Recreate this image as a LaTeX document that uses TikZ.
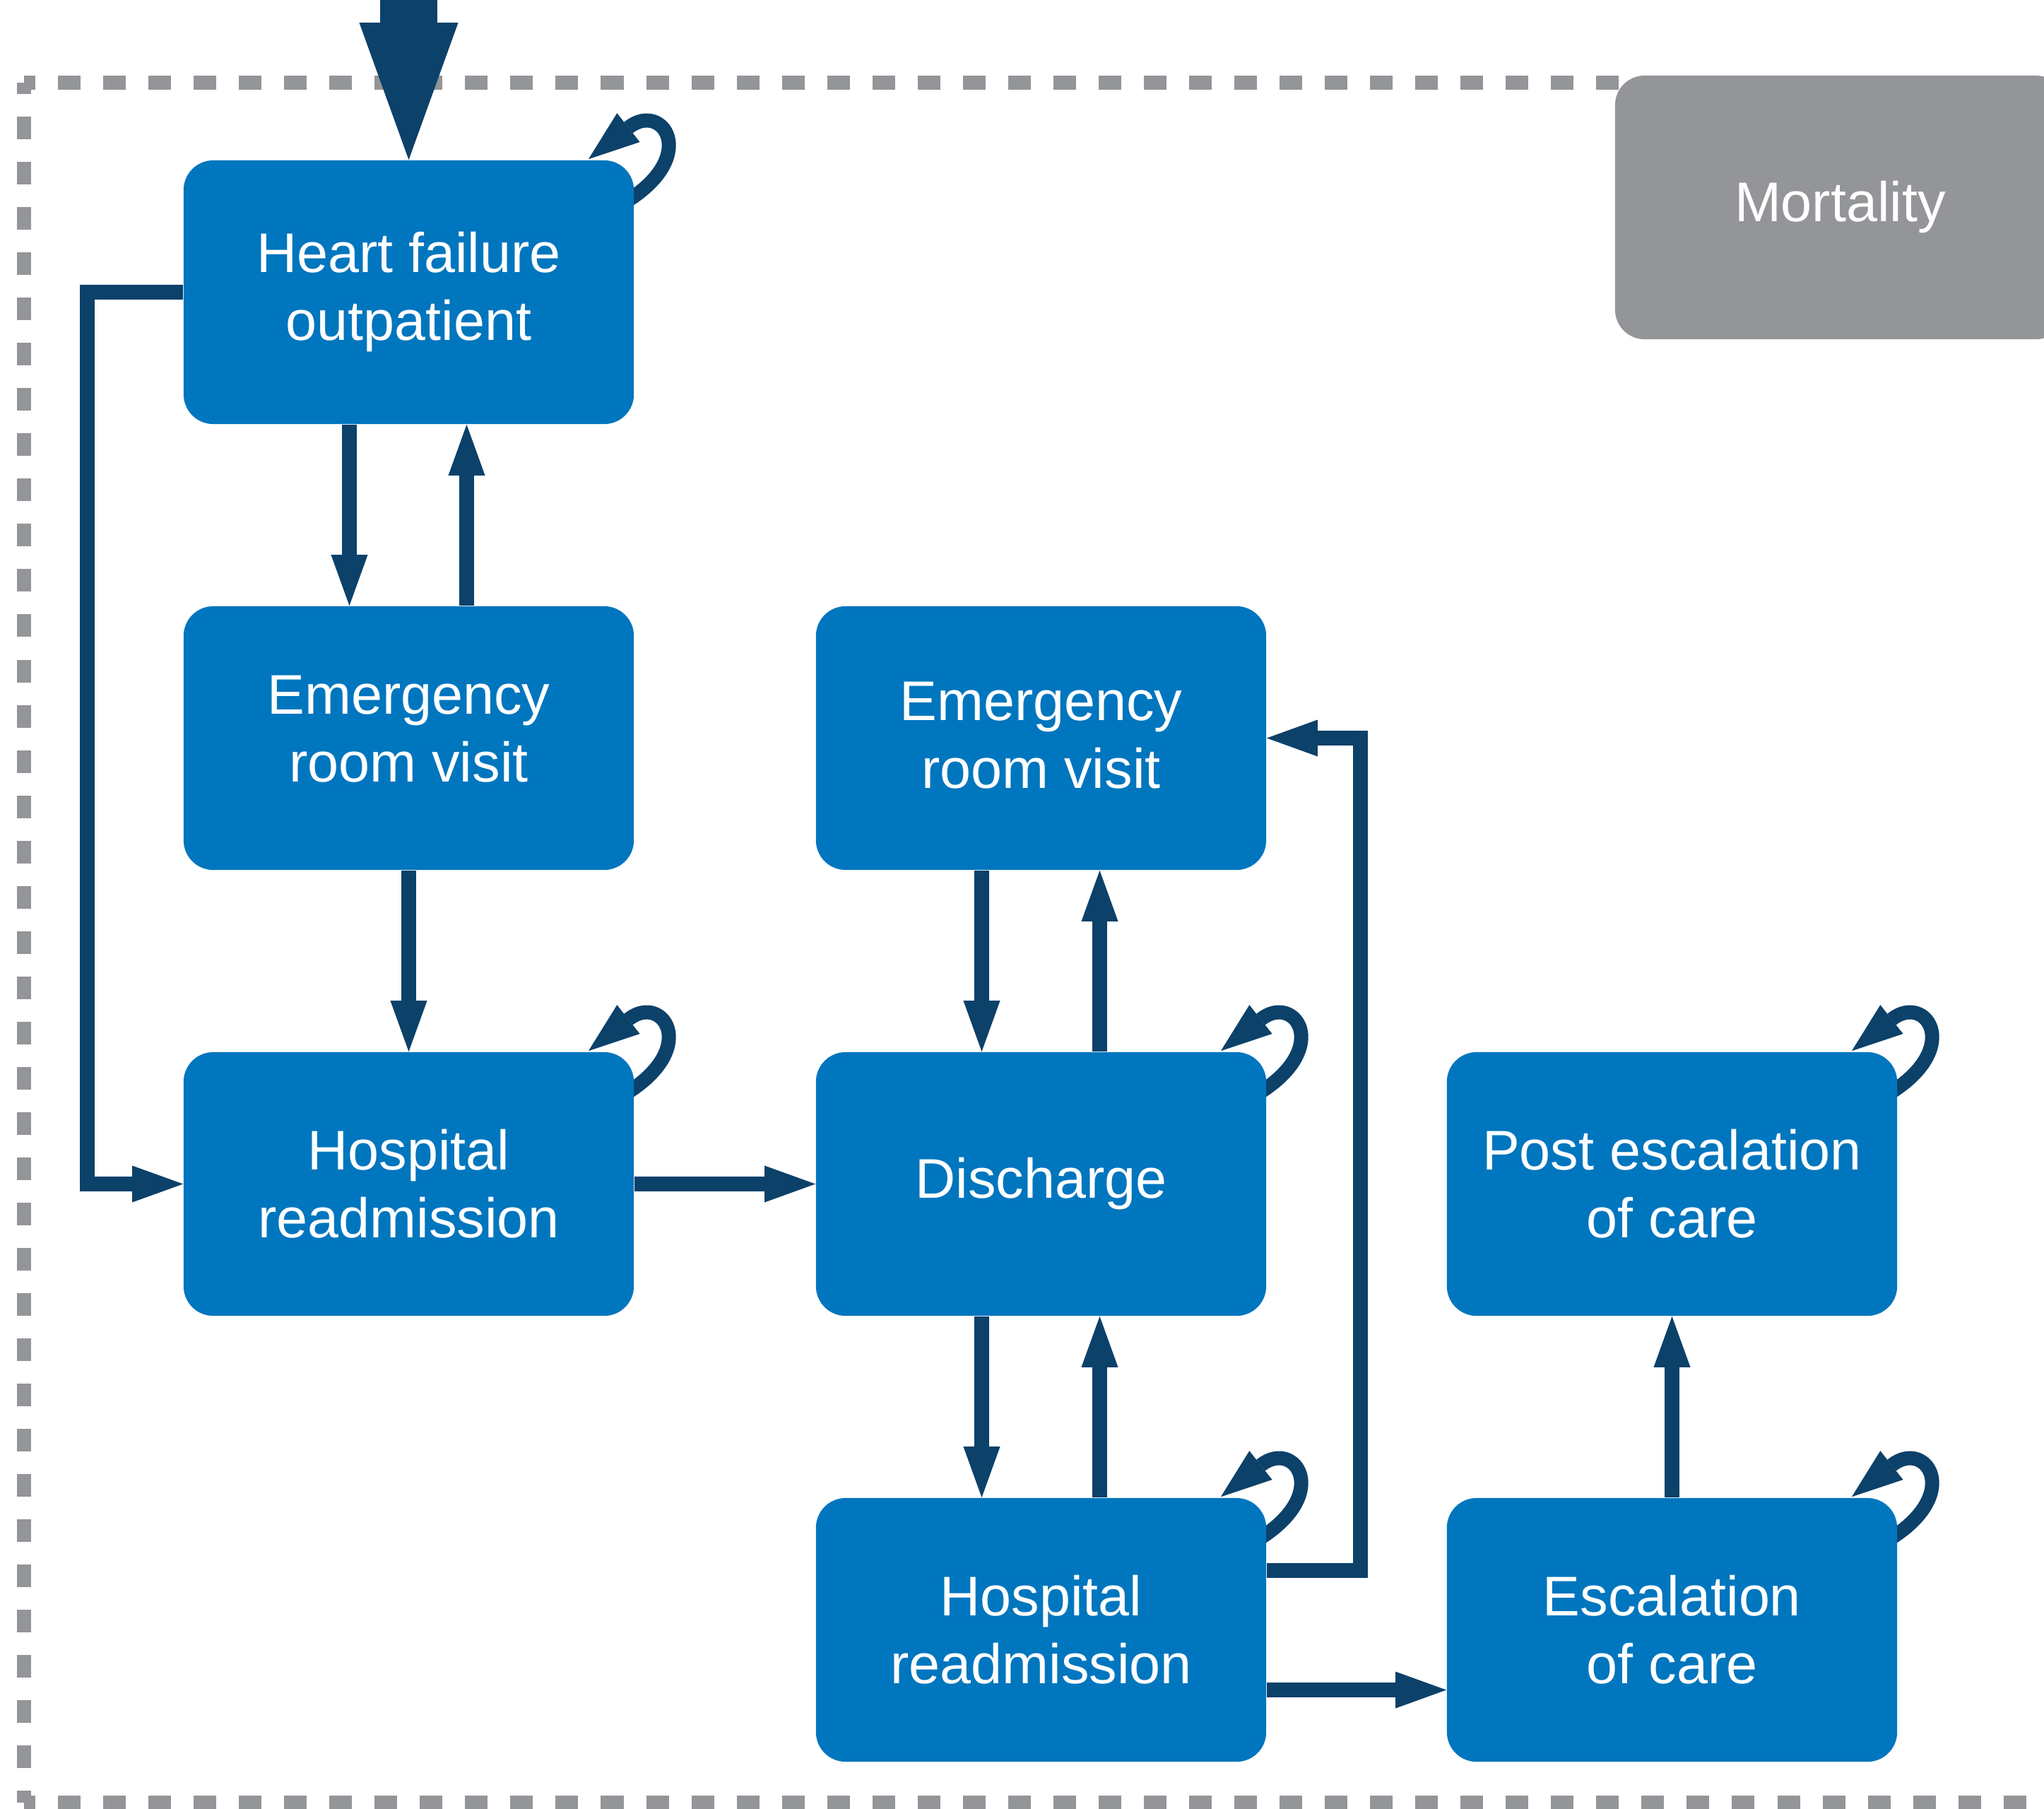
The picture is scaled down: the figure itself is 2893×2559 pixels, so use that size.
\documentclass[tikz,border=0pt]{standalone}
\usepackage{fontspec}
\setmainfont{Liberation Sans}
\usetikzlibrary{arrows.meta,calc,backgrounds}
\definecolor{boxblue}{RGB}{0,118,190}
\definecolor{arrowblue}{RGB}{12,65,106}
\definecolor{mgray}{RGB}{147,149,152}
\newcommand\selfloopat[1]{\draw[selfloop] ($(#1.north east)+(-10,58)$) .. controls ($(#1.north east)+(93,-7)$) and ($(#1.north east)+(39,-83)$) .. ($(#1.north east)+(-8,-46)$) -- ($(#1.north east)+(-65,-1)$);}
\begin{document}
\begin{tikzpicture}[x=0.01cm,y=-0.01cm,
  statebox/.style={fill=boxblue, text=white, rounded corners=0.42cm, minimum width=6.37cm, minimum height=3.73cm, align=center, inner sep=0pt, font=\fontsize{22.5pt}{27.3pt}\selectfont},
  mortbox/.style={statebox, fill=mgray},
  conn/.style={draw=arrowblue, line width=0.21cm, -{Triangle[length=0.72cm,width=0.52cm,line width=0pt]}},
  selfloop/.style={draw=arrowblue, line width=0.2cm, line join=round, -{Triangle[length=0.72cm,width=0.52cm,line width=0pt]}},
  border/.style={draw=mgray, line width=0.2cm, dash pattern=on 0.32cm off 0.32cm, dash phase=0.16cm}
]
\useasboundingbox (0,0) rectangle (2893,2559);
% dashed border
\coordinate (tl) at (34,117);
\coordinate (bl) at (34,2551);
\coordinate (tr) at (2950,117);
\coordinate (br) at (2950,2551);
\draw[border] (tl) -- (tr);
\draw[border] (tl) -- (bl);
\draw[border] (bl) -- (br);
% boxes
\node[statebox] (hf) at (578.5,413.5) {Heart failure\\outpatient};
\node[statebox, text depth=0.26cm] (er1) at (578.5,1044.5) {Emergency\\room visit};
\node[statebox] (hr1) at (578.5,1675.5) {Hospital\\readmission};
\node[statebox, text depth=0.08cm] (er2) at (1473.5,1044.5) {Emergency\\room visit};
\node[statebox] (dis) at (1473.5,1675.5) {Discharge};
\node[statebox] (hr2) at (1473.5,2306.5) {Hospital\\readmission};
\node[statebox] (pesc) at (2366.5,1675.5) {Post escalation\\of care};
\node[statebox] (esc) at (2366.5,2306.5) {Escalation\\of care};
\node[mortbox] (mort) at (2604.5,293.5) {Mortality};
% entry arrow
\coordinate (entry) at (578.5,0);
\draw[conn, line width=0.81cm, -{Triangle[length=1.94cm,width=1.4cm,line width=0pt]}] (entry) -- (hf.north);
% connectors
\draw[conn] ($(hf.south)+(-84,0)$) -- ($(er1.north)+(-84,0)$);
\draw[conn] ($(er1.north)+(82,0)$) -- ($(hf.south)+(82,0)$);
\draw[conn] (er1.south) -- (hr1.north);
\draw[conn] (hf.west) -- ++(-136,0) |- (hr1.west);
\draw[conn] (hr1.east) -- (dis.west);
\draw[conn] ($(er2.south)+(-84,0)$) -- ($(dis.north)+(-84,0)$);
\draw[conn] ($(dis.north)+(83,0)$) -- ($(er2.south)+(83,0)$);
\draw[conn] ($(dis.south)+(-84,0)$) -- ($(hr2.north)+(-84,0)$);
\draw[conn] ($(hr2.north)+(83,0)$) -- ($(dis.south)+(83,0)$);
\draw[conn] ($(hr2.east)+(0,-84)$) -- ++(133,0) |- (er2.east);
\draw[conn] ($(hr2.east)+(0,85)$) -- ($(esc.west)+(0,85)$);
\draw[conn] (esc.north) -- (pesc.south);
% self loops
\begin{scope}[on background layer]
\selfloopat{hf}
\selfloopat{hr1}
\selfloopat{dis}
\selfloopat{hr2}
\selfloopat{pesc}
\selfloopat{esc}
\end{scope}
\end{tikzpicture}
\end{document}
